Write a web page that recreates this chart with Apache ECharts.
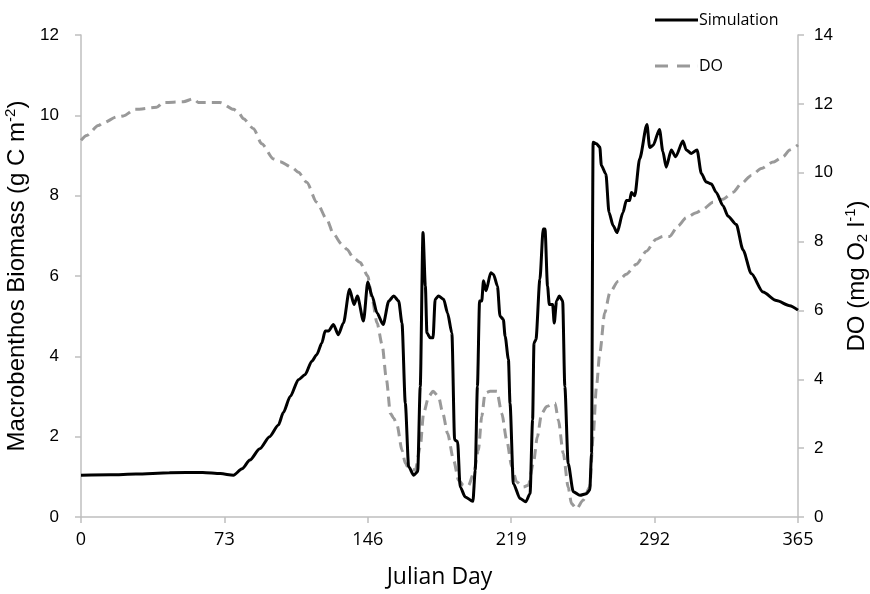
<!DOCTYPE html>
<html>
<head>
<meta charset="utf-8">
<script src="https://cdn.jsdelivr.net/npm/echarts@6/dist/echarts.min.js"></script>
<style>
html,body{margin:0;padding:0;background:#fff;}
#chart{width:870px;height:594px;}
</style>
</head>
<body>
<div id="chart"></div>
<script>
// Julian day ticks
const xTicks = [0, 73, 146, 219, 292, 365];

// Simulation (Macrobenthos biomass, g C m-2) - left axis
const simDays = [0, 15, 28, 45, 62, 71, 77.6, 82, 86, 91, 96, 100.5, 103, 106.5, 110.7, 114, 117.5, 120, 122.6, 124.3, 126, 128.5, 131, 133.6, 136.7, 139, 140.7, 143.8, 146, 148.2, 150.7, 153.8, 156.7, 159.2, 161.7, 163.4, 165.1, 166.8, 169.4, 171.4, 172.7, 174.1, 175.3, 176.1, 177.8, 179.2, 180.3, 182, 184.6, 186.6, 188.8, 190.2, 191.7, 193, 195.6, 199.5, 200.7, 201.8, 202.9, 204, 204.9, 206.2, 208.6, 210, 212, 213.3, 215, 215.9, 217.6, 218.4, 220.1, 223.5, 226.4, 228.6, 229.9, 230.6, 231.6, 233.6, 235.3, 236.2, 237.5, 238.4, 240.1, 240.9, 242.1, 243.5, 245.2, 246.3, 248, 250.6, 254, 257.3, 259, 259.9, 260.7, 262.4, 264.1, 264.9, 267.2, 268.8, 270.9, 272.9, 275.9, 277.6, 279.3, 280.2, 281.9, 284.4, 288.1, 289.5, 291.2, 294.5, 296.2, 297.9, 300.5, 302.7, 306.4, 308.1, 310.7, 313.6, 315.8, 318.3, 320.9, 323.4, 326.8, 329.4, 333.6, 337, 341.2, 347.2, 354, 360.8, 365];
const simValues = [1.04, 1.05, 1.07, 1.1, 1.11, 1.08, 1.04, 1.2, 1.42, 1.7, 2.0, 2.29, 2.6, 3.0, 3.42, 3.54, 3.88, 4.04, 4.33, 4.63, 4.63, 4.79, 4.54, 4.83, 5.67, 5.29, 5.5, 4.88, 5.85, 5.5, 5.08, 4.79, 5.38, 5.5, 5.38, 4.83, 2.83, 1.25, 1.04, 1.13, 3.25, 7.08, 5.75, 4.58, 4.46, 4.46, 5.42, 5.5, 5.42, 5.08, 4.58, 1.92, 1.88, 0.75, 0.5, 0.39, 1.17, 3.25, 5.38, 5.38, 5.88, 5.63, 6.08, 6.04, 5.75, 5.0, 4.92, 4.5, 3.92, 2.83, 0.83, 0.46, 0.38, 0.58, 2.42, 4.33, 4.42, 5.92, 7.17, 7.17, 5.75, 5.29, 5.29, 4.83, 5.38, 5.5, 5.38, 3.25, 1.33, 0.63, 0.54, 0.58, 0.67, 1.58, 9.33, 9.29, 9.21, 8.75, 8.54, 7.58, 7.25, 7.08, 7.58, 7.88, 7.88, 8.08, 8.0, 8.92, 9.77, 9.2, 9.25, 9.65, 9.1, 8.71, 9.14, 8.97, 9.36, 9.14, 9.05, 9.14, 8.55, 8.34, 8.29, 8.08, 7.75, 7.49, 7.28, 6.65, 6.06, 5.6, 5.39, 5.26, 5.15];

// Dissolved oxygen (mg O2 l-1) - right axis
const doDays = [0, 2.9, 8.8, 11.4, 18.2, 21.6, 27.5, 38.5, 41.9, 52.1, 57.2, 59.8, 70.8, 77.6, 80.1, 82.7, 87.8, 92, 98, 101.4, 107.3, 110.7, 114.9, 120, 125.1, 128.5, 132.8, 135.3, 138.7, 142.1, 146, 148.2, 150.7, 153.3, 155.5, 157.5, 159.2, 160.9, 163.4, 165.1, 166.8, 170.2, 172.7, 174.4, 177, 179.2, 182, 184.2, 186.6, 189.7, 192.2, 194.7, 197.3, 199.8, 202.3, 204, 205.7, 208.3, 211.7, 214.2, 216.7, 219.3, 221.8, 225.2, 227.7, 230.3, 232.3, 234.5, 237.1, 241.3, 243, 245.5, 248, 249.7, 252.3, 255.6, 259, 260.7, 262.4, 264.1, 266.6, 269.2, 273.4, 277.6, 282.7, 287.8, 292.8, 296.2, 299.6, 303.9, 308.1, 313.2, 316.6, 321.7, 326.8, 331.9, 336.1, 341.2, 346.3, 352.3, 357.4, 360.8, 365];
const doValues = [10.94, 11.08, 11.37, 11.45, 11.62, 11.65, 11.84, 11.9, 12.04, 12.06, 12.15, 12.04, 12.04, 11.84, 11.76, 11.57, 11.28, 10.84, 10.4, 10.32, 10.16, 10.01, 9.72, 9.14, 8.65, 8.22, 7.92, 7.78, 7.53, 7.39, 7.0, 6.32, 5.64, 5.0, 3.99, 3.01, 2.87, 2.67, 1.94, 1.56, 1.41, 1.36, 2.04, 3.01, 3.5, 3.65, 3.5, 3.01, 2.43, 1.65, 1.07, 0.92, 0.92, 1.26, 1.94, 2.92, 3.6, 3.65, 3.65, 3.01, 2.24, 1.46, 1.02, 0.87, 0.92, 1.56, 2.33, 3.01, 3.21, 3.31, 2.82, 1.85, 0.87, 0.39, 0.24, 0.49, 0.87, 2.33, 3.79, 4.76, 5.93, 6.51, 6.85, 7.05, 7.34, 7.72, 8.07, 8.15, 8.15, 8.45, 8.69, 8.84, 8.94, 9.14, 9.23, 9.43, 9.68, 9.92, 10.12, 10.31, 10.46, 10.66, 10.81];

const simData = simDays.map((d, i) => [d, simValues[i]]);
const doData = doDays.map((d, i) => [d, doValues[i]]);

const axisGray = '#bfbfbf';
const chart = echarts.init(document.getElementById('chart'), null, {renderer: 'canvas'});
chart.setOption({
  animation: false,
  backgroundColor: '#fff',
  grid: {left: 81, right: 72, top: 35, bottom: 77, containLabel: false, outerBoundsMode: 'none'},
  legend: {
    orient: 'vertical',
    left: 650,
    top: 7,
    itemWidth: 43,
    itemHeight: 3,
    itemGap: 30,
    textStyle: {fontFamily: 'Open Sans', fontSize: 16, color: '#000', padding: [0, 0, 0, -4]},
    data: [
      {name: 'Simulation', icon: 'path://M0 0H43V3H0Z', itemStyle: {color: '#000'}},
      {name: 'DO', icon: 'path://M0 0H13V3H0Z M22 0H35V3H22Z M42.9 0H43V3H42.9Z', itemStyle: {color: '#999999'}}
    ]
  },
  xAxis: {
    type: 'value',
    min: xTicks[0],
    max: xTicks[xTicks.length - 1],
    interval: 73,
    name: 'Julian Day',
    nameLocation: 'middle',
    nameGap: 49,
    nameTextStyle: {fontFamily: 'Open Sans', fontSize: 23, color: '#000'},
    axisLine: {lineStyle: {color: axisGray, width: 1.5}},
    axisTick: {show: true, length: 6, lineStyle: {color: axisGray, width: 1.5}},
    axisLabel: {fontFamily: 'Open Sans', fontSize: 18, color: '#000', margin: 14},
    splitLine: {show: false}
  },
  yAxis: [
    {
      type: 'value', min: 0, max: 12, interval: 2, position: 'left',
      name: '{t|Macrobenthos Biomass (g C m}{sup|-2}{t|)}',
      nameLocation: 'middle', nameRotate: 90, nameGap: 47,
      nameTextStyle: {
        fontFamily: 'Liberation Sans', fontSize: 24, color: '#000',
        rich: {
          t: {fontFamily: 'Liberation Sans', fontSize: 24, color: '#000'},
          sup: {fontFamily: 'Liberation Sans', fontSize: 15, color: '#000', padding: [0, 0, 12, 0]}
        }
      },
      axisLine: {show: true, lineStyle: {color: axisGray, width: 1.5}},
      axisTick: {show: true, length: 6, lineStyle: {color: axisGray, width: 1.5}},
      axisLabel: {fontFamily: 'Liberation Sans', fontSize: 17, color: '#000', margin: 22},
      splitLine: {show: false}
    },
    {
      type: 'value', min: 0, max: 14, interval: 2, position: 'right',
      name: '{t|DO (mg O}{sub|2}{t| l}{sup|-1}{t|)}',
      nameLocation: 'middle', nameRotate: 90, nameGap: 44,
      nameTextStyle: {
        fontFamily: 'Liberation Sans', fontSize: 24, color: '#000',
        rich: {
          t: {fontFamily: 'Liberation Sans', fontSize: 24, color: '#000'},
          sub: {fontFamily: 'Liberation Sans', fontSize: 15, color: '#000', padding: [12, 0, 0, 0]},
          sup: {fontFamily: 'Liberation Sans', fontSize: 15, color: '#000', padding: [0, 0, 12, 0]}
        }
      },
      axisLine: {show: true, lineStyle: {color: axisGray, width: 1.5}},
      axisTick: {show: true, length: 6, lineStyle: {color: axisGray, width: 1.5}},
      axisLabel: {fontFamily: 'Liberation Sans', fontSize: 17, color: '#000', margin: 16},
      splitLine: {show: false}
    }
  ],
  series: [
    {
      name: 'Simulation', type: 'line', yAxisIndex: 0, data: simData,
      symbol: 'none', showSymbol: false,
      smooth: 0.25, smoothMonotone: 'x',
      lineStyle: {color: '#000', width: 3},
      itemStyle: {color: '#000'},
      z: 3
    },
    {
      name: 'DO', type: 'line', yAxisIndex: 1, data: doData,
      symbol: 'none', showSymbol: false,
      smooth: 0.25, smoothMonotone: 'x',
      lineStyle: {color: '#999999', width: 3, type: [10, 6]},
      itemStyle: {color: '#999999'},
      z: 2
    }
  ]
});
</script>
</body>
</html>
